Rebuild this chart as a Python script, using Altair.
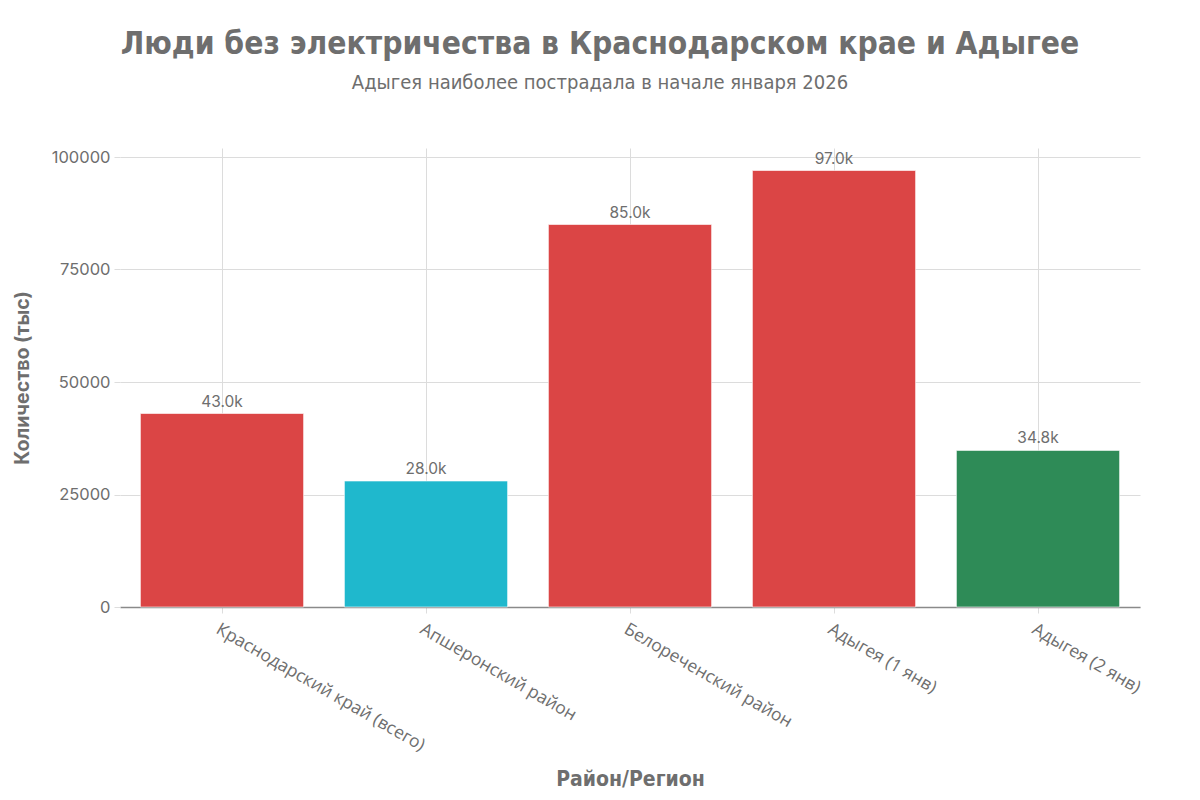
import altair as alt
import pandas as pd

categories = ["Краснодарский край (всего)", "Апшеронский район", "Белореченский район",
              "Адыгея (1 янв)", "Адыгея (2 янв)"]
values = [43000, 28000, 85000, 97000, 34800]
colors = ["#DB4545", "#1FB8CD", "#DB4545", "#DB4545", "#2E8B57"]
y_ticks = [0, 25000, 50000, 75000, 100000]

df = pd.DataFrame({"cat": categories, "val": values, "color": colors})

W, H = 1020, 459
grey = "#6e6e6e"

base = alt.Chart(df).encode(
    x=alt.X("cat:N", sort=categories, title="Район/Регион",
            scale=alt.Scale(paddingInner=0.2, paddingOuter=0.1),
            axis=alt.Axis(labelAngle=30, labelAlign="left", labelBaseline="top",
                          labelFont="Open Sans", labelFontSize=17.5, labelColor=grey,
                          labelLimit=0, labelPadding=7, tickSize=6, tickColor="#dddddd",
                          grid=True, gridColor="#dcdcdc", domainColor="#8a8a8a",
                          domainWidth=1.5, titleFont="DejaVu Sans Condensed",
                          titleFontWeight="bold", titleFontSize=21, titleColor=grey,
                          titleY=172, titleBaseline="middle")),
)

bars = base.mark_bar(stroke="#ffffff", strokeOpacity=0.6, strokeWidth=1).encode(
    y=alt.Y("val:Q", title="Количество (тыс)",
            scale=alt.Scale(domain=[0, 102000], nice=False),
            axis=alt.Axis(values=y_ticks, format="d", labelFont="Inter", labelFontSize=16.5,
                          labelColor=grey, labelPadding=4, tickSize=6, tickColor="#dddddd",
                          gridColor="#dcdcdc", domain=False,
                          titleFont="Inter", titleFontWeight="bold", titleFontSize=19.5,
                          titleColor=grey, titleX=-98, titleY=H / 2, titleBaseline="middle")),
    color=alt.Color("color:N", scale=None),
)

labels = base.mark_text(baseline="bottom", dy=-4, font="Inter", fontSize=15.5, color=grey).encode(
    y="val:Q",
    text="lbl:N",
).transform_calculate(lbl="format(datum.val/1000, '.1f') + 'k'")

chart = (bars + labels).properties(
    width=W, height=H,
    autosize=alt.AutoSizeParams(type="none"),
    padding={"left": 112, "top": 140, "right": 52, "bottom": 185},
    title=alt.TitleParams(
        text="Люди без электричества в Краснодарском крае и Адыгее",
        subtitle="Адыгея наиболее пострадала в начале января 2026",
        font="DejaVu Sans Condensed", fontSize=31.5, fontWeight="bold", color="#6e6e6e",
        subtitleFont="DejaVu Sans Condensed", subtitleFontSize=20, subtitleColor="#6e6e6e",
        subtitlePadding=13, anchor="middle", dx=-30, offset=55,
    ),
).configure_view(stroke=None).configure_axis(tickColor="#dddddd")

chart.save("out.html", embed_options={"renderer": "svg", "actions": False})
